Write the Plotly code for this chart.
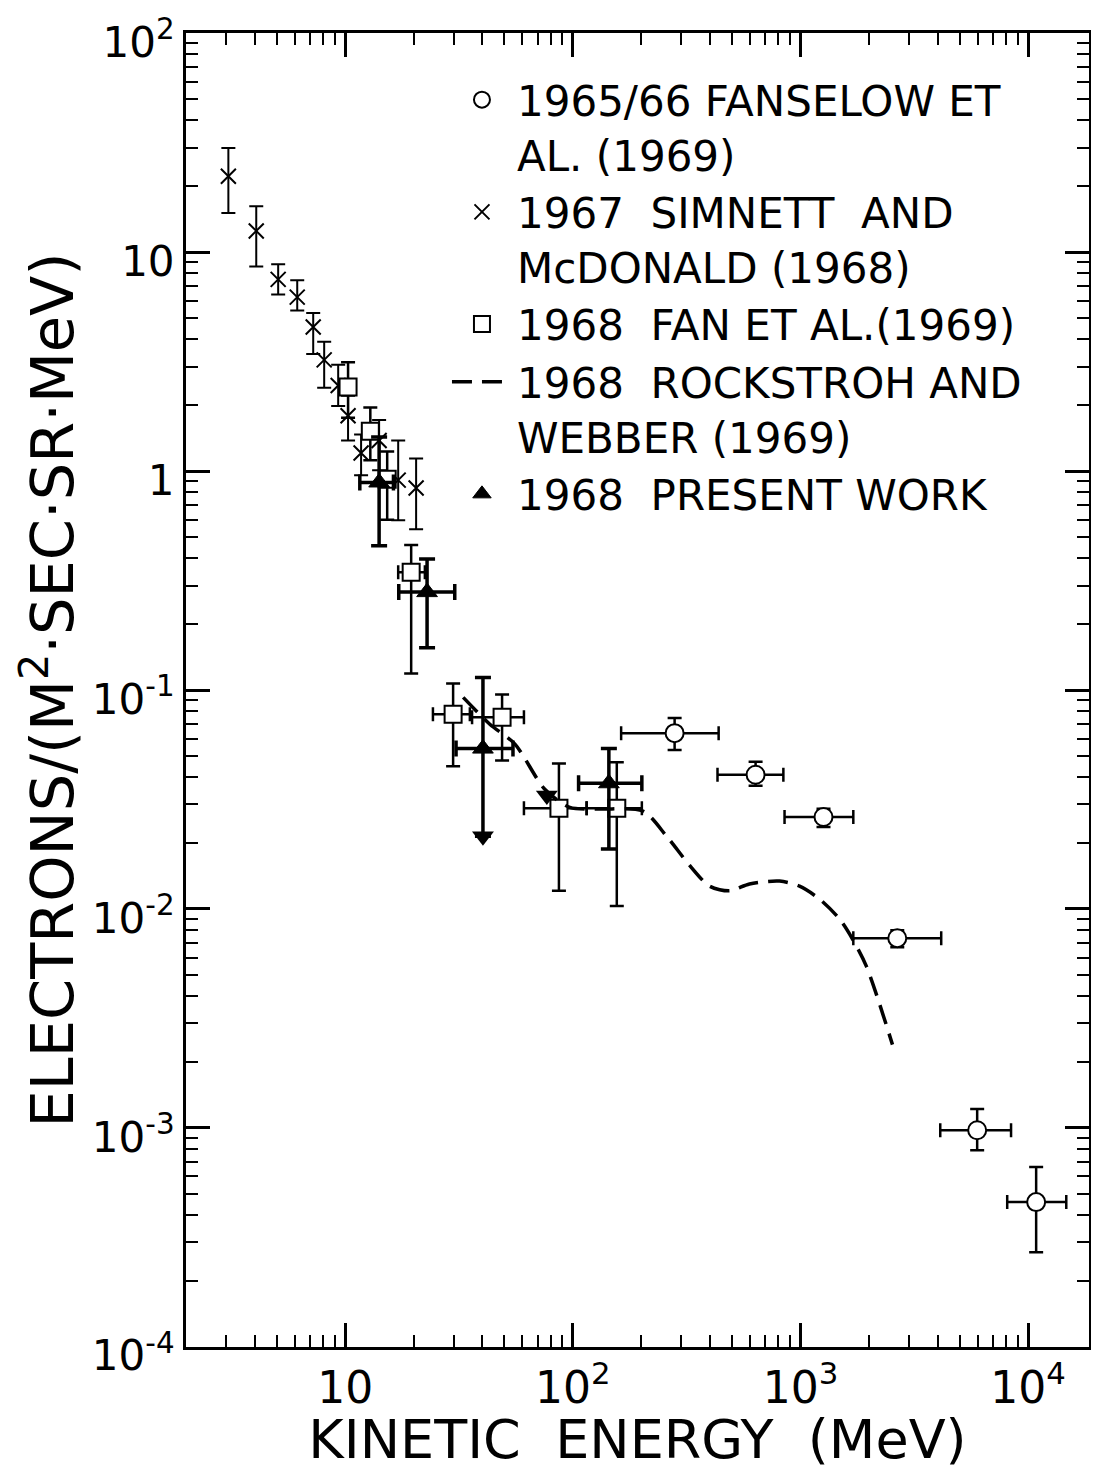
import plotly.graph_objects as go
import numpy as np

# ---------------- data ----------------
# 1965/66 Fanselow et al. (1969)  -- open circles
fanselow_E = [280, 635, 1262, 2661, 5970, 10840]
fanselow_E_lo = [163, 432, 851, 1706, 4110, 8090]
fanselow_E_hi = [437, 841, 1706, 4150, 8410, 14700]
fanselow_flux = [0.0635, 0.0410, 0.0263, 0.00735, 0.000975, 0.000458]
fanselow_flux_hi = [0.0745, 0.0470, 0.0287, 0.00800, 0.00122, 0.000662]
fanselow_flux_lo = [0.0532, 0.0365, 0.0237, 0.00668, 0.000790, 0.000270]

# 1967 Simnett and McDonald (1968)  -- crosses
simnett_E = [3.07, 4.07, 5.08, 6.16, 7.24, 8.09, 9.32, 10.3, 11.75, 14.1, 17.1, 20.5]
simnett_flux = [22.2, 12.5, 7.51, 6.23, 4.55, 3.22, 2.46, 1.79, 1.21, 1.38, 0.909, 0.837]
simnett_flux_hi = [29.9, 16.2, 8.81, 7.45, 5.27, 3.90, 3.06, 2.21, 1.47, 1.71, 1.38, 1.14]
simnett_flux_lo = [15.1, 8.6, 6.41, 5.42, 3.43, 2.40, 1.98, 1.38, 0.957, 1.01, 0.596, 0.542]

# 1968 Fan et al. (1969)  -- open squares
fan_E = [10.3, 12.9, 15.3, 19.5, 29.8, 48.9, 86.9, 156]
fan_E_lo = [10.3, 12.9, 15.3, 17.1, 24.3, 36.1, 61, 115]
fan_E_hi = [10.3, 12.9, 15.3, 22.4, 35.3, 61, 115, 201]
fan_flux = [2.42, 1.52, 0.917, 0.345, 0.0775, 0.0750, 0.0288, 0.0288]
fan_flux_hi = [3.14, 1.95, 1.23, 0.460, 0.107, 0.0955, 0.0462, 0.0468]
fan_flux_lo = [1.75, 1.12, 0.60, 0.119, 0.0448, 0.0477, 0.0121, 0.0103]

# 1968 Rockstroh and Webber (1969)  -- dashed curve
rockstroh_E = [33.0, 43.2, 55.7, 75.3, 97, 131, 203, 258, 326, 399, 488, 597,
               809, 990, 1211, 1483, 1690, 1946, 2535]
rockstroh_flux = [0.0925, 0.0698, 0.0566, 0.0352, 0.0291, 0.0286, 0.0280, 0.0215,
                  0.0158, 0.0127, 0.0121, 0.0130, 0.0134, 0.0127, 0.0111, 0.0090,
                  0.0073, 0.00548, 0.00240]

# 1968 present work  -- filled triangles
present_E = [14.1, 22.9, 40.3, 144]
present_E_lo = [11.6, 17.2, 30.7, 106]
present_E_hi = [16.3, 30.3, 54.6, 201]
present_flux = [0.887, 0.280, 0.054, 0.0375]
present_flux_hi = [1.43, 0.397, 0.114, 0.0540]
present_flux_lo = [0.456, 0.156, 0.0215, 0.0188]

# upper-limit arrow heads
limit_E = [40.3, 76.9]
limit_flux = [0.0215, 0.0330]

# axis ticks
x_tickvals = [10, 100, 1000, 10000]
x_ticktext = ["10", "10<sup>2</sup>", "10<sup>3</sup>", "10<sup>4</sup>"]
y_tickvals = [1e-4, 1e-3, 1e-2, 1e-1, 1, 10, 100]
y_ticktext = ["10<sup>-4</sup>", "10<sup>-3</sup>", "10<sup>-2</sup>", "10<sup>-1</sup>",
              "1", "10", "10<sup>2</sup>"]


def err(v, hi, lo):
    v, hi, lo = np.array(v), np.array(hi), np.array(lo)
    return (hi - v).tolist(), (v - lo).tolist()


FONT = "DejaVu Sans"
fig = go.Figure()

up, dn = err(fanselow_flux, fanselow_flux_hi, fanselow_flux_lo)
xr, xl = err(fanselow_E, fanselow_E_hi, fanselow_E_lo)
fig.add_trace(go.Scatter(
    x=fanselow_E, y=fanselow_flux, mode="markers",
    name="1965/66 FANSELOW ET<br>AL. (1969)",
    marker=dict(symbol="circle", size=18, color="white", line=dict(color="black", width=2)),
    error_y=dict(type="data", symmetric=False, array=up, arrayminus=dn,
                 thickness=2.5, width=7, color="black"),
    error_x=dict(type="data", symmetric=False, array=xr, arrayminus=xl,
                 thickness=2.5, width=7, color="black"),
))

up, dn = err(simnett_flux, simnett_flux_hi, simnett_flux_lo)
fig.add_trace(go.Scatter(
    x=simnett_E, y=simnett_flux, mode="markers",
    name="1967  SIMNETT  AND<br>McDONALD (1968)",
    marker=dict(symbol="x-thin", size=15, color="black", line=dict(color="black", width=2)),
    error_y=dict(type="data", symmetric=False, array=up, arrayminus=dn,
                 thickness=2, width=7, color="black"),
))

up, dn = err(fan_flux, fan_flux_hi, fan_flux_lo)
xr, xl = err(fan_E, fan_E_hi, fan_E_lo)
fig.add_trace(go.Scatter(
    x=fan_E, y=fan_flux, mode="markers",
    name="1968  FAN ET AL.(1969)",
    marker=dict(symbol="square", size=17, color="white", line=dict(color="black", width=2)),
    error_y=dict(type="data", symmetric=False, array=up, arrayminus=dn,
                 thickness=2.5, width=7, color="black"),
    error_x=dict(type="data", symmetric=False, array=xr, arrayminus=xl,
                 thickness=2.5, width=7, color="black"),
))

fig.add_trace(go.Scatter(
    x=rockstroh_E, y=rockstroh_flux, mode="lines",
    name="1968  ROCKSTROH AND<br>WEBBER (1969)",
    line=dict(color="black", width=3.5, dash="20px,10px", shape="spline", smoothing=0.8),
))

up, dn = err(present_flux, present_flux_hi, present_flux_lo)
xr, xl = err(present_E, present_E_hi, present_E_lo)
fig.add_trace(go.Scatter(
    x=present_E, y=present_flux, mode="markers",
    name="1968  PRESENT WORK",
    marker=dict(symbol="triangle-up", size=18, color="black", line=dict(color="black", width=1)),
    error_y=dict(type="data", symmetric=False, array=up, arrayminus=dn,
                 thickness=3.5, width=8, color="black"),
    error_x=dict(type="data", symmetric=False, array=xr, arrayminus=xl,
                 thickness=3.5, width=8, color="black"),
))

fig.add_trace(go.Scatter(
    x=limit_E, y=limit_flux, mode="markers", showlegend=False,
    marker=dict(symbol="triangle-down", size=19, color="black"),
))

minor_x = [m * 10 ** d for d in range(0, 5) for m in range(2, 10)]
minor_y = [m * 10.0 ** d for d in range(-4, 2) for m in range(2, 10)]

axis_common = dict(
    type="log", showline=True, linewidth=3, linecolor="black", mirror="ticks",
    ticks="inside", ticklen=24, tickwidth=2.5, tickcolor="black",
    showgrid=False, zeroline=False, automargin=False, ticklabeloverflow="allow",
)

fig.update_xaxes(
    **axis_common,
    range=[np.log10(2), np.log10(18500)],
    tickmode="array", tickvals=x_tickvals, ticktext=x_ticktext,
    tickfont=dict(family=FONT, size=44, color="black"),
    minor=dict(ticks="inside", ticklen=12, tickwidth=2, tickcolor="black",
               tickmode="array", tickvals=minor_x, showgrid=False),
    title=dict(text="KINETIC  ENERGY  (MeV)", font=dict(family=FONT, size=54, color="black"),
               standoff=10),
)
fig.update_yaxes(
    **axis_common,
    range=[-4.001, 2.001],
    tickmode="array", tickvals=y_tickvals, ticktext=y_ticktext,
    tickfont=dict(family=FONT, size=42, color="black"),
    ticklabelshift=9,
    minor=dict(ticks="inside", ticklen=12, tickwidth=2, tickcolor="black",
               tickmode="array", tickvals=minor_y, showgrid=False),
    title=dict(text="ELECTRONS/(M<sup>2</sup>·SEC·SR·MeV)",
               font=dict(family=FONT, size=59, color="black"), standoff=0),
)

# the page body adds an 8 px margin on every side, so the figure is 16 px smaller
fig.update_layout(
    width=1083, height=1463,
    margin=dict(l=178, r=2, t=25, b=124),
    paper_bgcolor="white", plot_bgcolor="white",
    font=dict(family=FONT, color="black"),
    legend=dict(x=0.289, y=0.975, xanchor="left", yanchor="top",
                font=dict(family=FONT, size=42, color="black"),
                bgcolor="rgba(0,0,0,0)", valign="top", itemwidth=60,
                tracegroupgap=2),
)

fig.write_html("out.html")
